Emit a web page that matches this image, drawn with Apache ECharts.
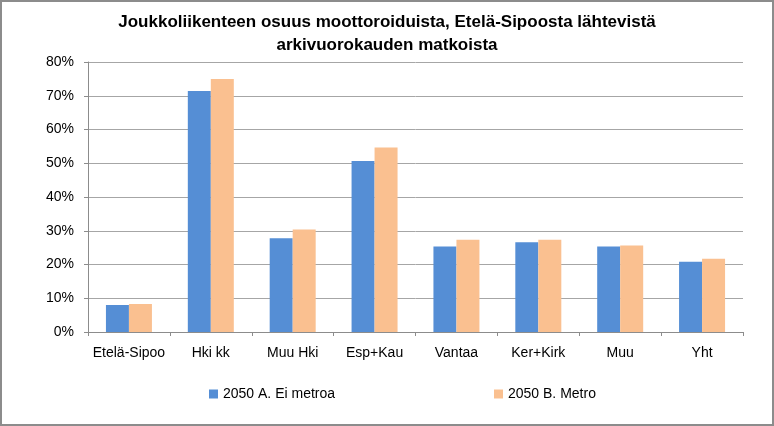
<!DOCTYPE html>
<html>
<head>
<meta charset="utf-8">
<script src="https://cdn.jsdelivr.net/npm/echarts@6/dist/echarts.min.js"></script>
<style>
html,body{margin:0;padding:0;background:#fff;}
#frame{position:absolute;left:0;top:0;width:770px;height:422px;border:2px solid #8c8c8c;background:#fff;}
#c{position:absolute;left:-2px;top:-2px;width:774px;height:426px;}
</style>
</head>
<body>
<div id="frame"><div id="c"></div></div>
<script>
const categories = ['Etelä-Sipoo','Hki kk','Muu Hki','Esp+Kau','Vantaa','Ker+Kirk','Muu','Yht'];
const seriesA = [8.0, 71.4, 27.8, 50.7, 25.3, 26.6, 25.3, 20.8];
const seriesB = [8.3, 75.0, 30.4, 54.7, 27.3, 27.3, 25.6, 21.7];
const nameA = '2050 A. Ei metroa';
const nameB = '2050 B. Metro';
const titleText = 'Joukkoliikenteen osuus moottoroiduista, Etelä-Sipoosta lähtevistä\narkivuorokauden matkoista';

const font = '"Liberation Sans", Arial, sans-serif';
const chart = echarts.init(document.getElementById('c'), null, {renderer:'canvas'});
chart.setOption({
  animation:false,
  title:{
    text:titleText, left:'center', top:6,
    textStyle:{fontFamily:font, fontWeight:'bold', fontSize:17, lineHeight:23, color:'#000'}
  },
  legend:[
    {data:[nameA], left:204, top:382, itemWidth:9, itemHeight:9, itemGap:5, icon:'rect',
     textStyle:{fontFamily:font, fontSize:14, color:'#000'}},
    {data:[nameB], left:489, top:382, itemWidth:9, itemHeight:9, itemGap:5, icon:'rect',
     textStyle:{fontFamily:font, fontSize:14, color:'#000'}}
  ],
  grid:{left:88, right:31, top:62, bottom:94},
  xAxis:{
    type:'category', data:categories,
    axisLine:{lineStyle:{color:'#8c8c8c', width:1}},
    axisTick:{show:true, length:4, lineStyle:{color:'#8c8c8c'}},
    axisLabel:{fontFamily:font, fontSize:14, color:'#000', margin:14, interval:0}
  },
  yAxis:{
    type:'value', min:0, max:80, interval:10,
    axisLine:{show:true, lineStyle:{color:'#8c8c8c', width:1}},
    axisTick:{show:true, length:4, lineStyle:{color:'#8c8c8c'}},
    axisLabel:{fontFamily:font, fontSize:14, color:'#000', margin:14, formatter:'{value}%'},
    splitLine:{lineStyle:{color:'#a6a6a6', width:1}}
  },
  series:[
    {name:nameA, type:'bar', data:seriesA, barWidth:23, barGap:'0%', itemStyle:{color:'#558ED5'}},
    {name:nameB, type:'bar', data:seriesB, barWidth:23, barGap:'0%', itemStyle:{color:'#FAC090'}}
  ]
});
</script>
</body>
</html>
